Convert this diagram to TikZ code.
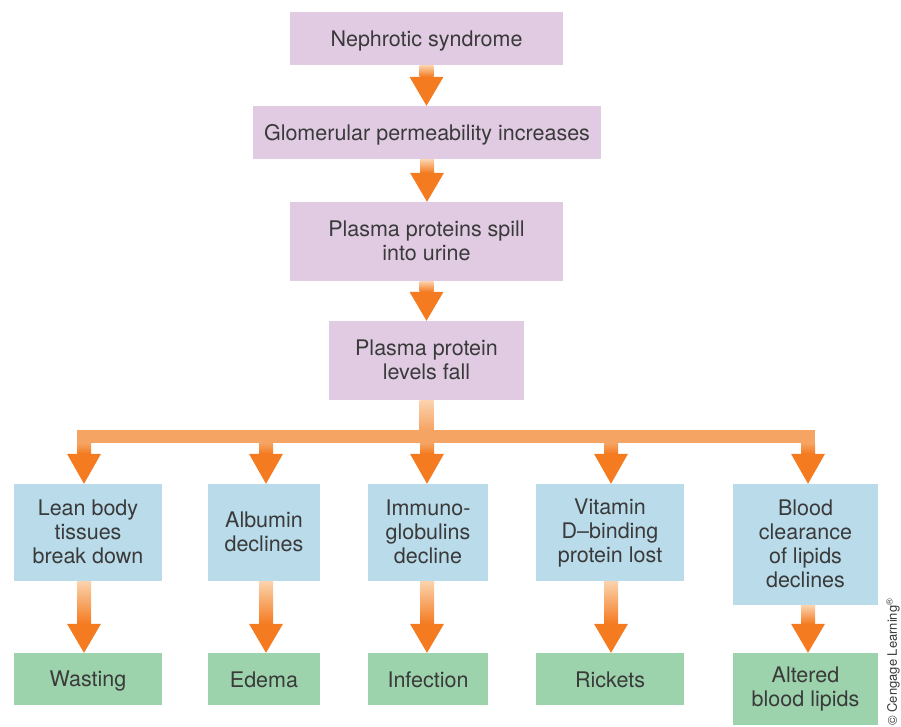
\documentclass[tikz,border=0pt]{standalone}
\usepackage{fontspec}
\setmainfont{TeX Gyre Heros}
\usepackage{xcolor}
\usepackage{tikz}
\usetikzlibrary{calc, positioning}
\definecolor{boxpurple}{HTML}{E0CBE3}
\definecolor{boxblue}{HTML}{B9DBEA}
\definecolor{boxgreen}{HTML}{9CD2AC}
\definecolor{textgray}{HTML}{3A3A3A}
\definecolor{arrowpale}{HTML}{FBD3AE}
\definecolor{arrowmid}{HTML}{F6A463}
\definecolor{arrowdeep}{HTML}{F47B20}

% fat orange arrow from the bottom of one box to the top of the next
\newcommand{\flowarrow}[2]{%
  \shade[top color=arrowpale, bottom color=arrowdeep]
    let \p1=(#1), \p2=(#2) in (\x1-7pt,\y1) rectangle (\x1+7pt,\y2+29pt);
  \fill[arrowdeep] let \p1=(#1), \p2=(#2) in
    (\x1-17pt,\y2+29pt) -- (\x1+17pt,\y2+29pt) -- (\x1,\y2) -- cycle;
}
% drop from the bus bar down to a box
\newcommand{\busdrop}[1]{%
  \shade[top color=arrowmid, bottom color=arrowdeep]
    let \p1=(busbar), \p2=(#1) in (\x2-7pt,\y1-13pt) rectangle (\x2+7pt,\y2+30pt);
  \fill[arrowdeep] let \p2=(#1) in
    (\x2-17pt,\y2+30pt) -- (\x2+17pt,\y2+30pt) -- (\x2,\y2) -- cycle;
}
\newcommand{\topstrut}{\rule{0pt}{20pt}}
\newcommand{\botstrut}{\rule[-2.4pt]{0pt}{2.4pt}}

\begin{document}
\begin{tikzpicture}[
    x=1pt, y=-1pt,
    box/.style={inner sep=0pt, align=center, font=\fontsize{21.5}{24}\selectfont, text=textgray,
      execute at begin node=\topstrut, execute at end node=\botstrut},
    cause/.style={box, fill=boxpurple},
    effect/.style={box, fill=boxblue, minimum height=97pt},
    outcome/.style={box, fill=boxgreen, minimum height=52pt},
]
\useasboundingbox (0,0) rectangle (901,726);

% Main chain
\node[cause, minimum width=273pt, minimum height=53pt] (nephrotic) at (426.5,38.5) {Nephrotic syndrome};
\node[cause, minimum width=348pt, minimum height=53pt] (glomerular) at (427,132.5) {Glomerular permeability increases};
\node[cause, minimum width=273pt, minimum height=79pt] (spill) at (426.5,241.5) {Plasma proteins spill\\into urine};
\node[cause, minimum width=195pt, minimum height=79pt] (fall) at (426.5,360.5) {Plasma protein\\levels fall};

% Consequences
\node[effect, minimum width=148pt] (lean) at (88,532.5) {Lean body\\tissues\\break down};
\node[effect, minimum width=112pt] (albumin) at (264,532.5) {Albumin\\declines};
\node[effect, minimum width=120pt] (immuno) at (428,532.5) {Immuno-\\globulins\\decline};
\node[effect, minimum width=148pt] (vitamin) at (610,532.5) {Vitamin\\D--binding\\protein lost};
\node[effect, minimum width=145pt, minimum height=121pt] (blood) at (805.5,544.5) {Blood\\clearance\\of lipids\\declines};

% Outcomes
\node[outcome, minimum width=148pt] (wasting) at (88,679) {Wasting};
\node[outcome, minimum width=112pt] (edema) at (264,679) {Edema};
\node[outcome, minimum width=120pt] (infection) at (428,679) {Infection};
\node[outcome, minimum width=148pt] (rickets) at (610,679) {Rickets};
\node[outcome, minimum width=145pt, minimum height=72pt] (altered) at (805.5,689) {Altered\\blood lipids};

% Credit
\node[rotate=90, font=\fontsize{13}{15}\selectfont, text=textgray] (credit) at (893,662) {\textcopyright{} Cengage Learning\textsuperscript{\textregistered}};

% Arrows
\flowarrow{nephrotic.south}{glomerular.north}
\flowarrow{glomerular.south}{spill.north}
\flowarrow{spill.south}{fall.north}

% Bus
\coordinate (busbar) at (427,430);
\shade[top color=arrowpale, bottom color=arrowmid]
  let \p1=(fall.south), \p2=(busbar) in (\x1-7pt,\y1) rectangle (\x1+7pt,\y2);
\fill[arrowmid] let \p1=([xshift=-4pt]lean.north), \p2=([xshift=2.5pt]blood.north), \p3=(busbar) in
  (\x1-7pt,\y3) rectangle (\x2+7pt,\y3-13pt);
\busdrop{[xshift=-4pt]lean.north}
\busdrop{[xshift=2pt]albumin.north}
\busdrop{[xshift=-1pt]immuno.north}
\busdrop{[xshift=1pt]vitamin.north}
\busdrop{[xshift=2.5pt]blood.north}

\flowarrow{[xshift=-4pt]lean.south}{[xshift=-4pt]wasting.north}
\flowarrow{[xshift=2pt]albumin.south}{[xshift=2pt]edema.north}
\flowarrow{[xshift=-1pt]immuno.south}{[xshift=-1pt]infection.north}
\flowarrow{[xshift=1pt]vitamin.south}{[xshift=1pt]rickets.north}
\flowarrow{[xshift=2.5pt]blood.south}{[xshift=2.5pt]altered.north}

\end{tikzpicture}
\end{document}
